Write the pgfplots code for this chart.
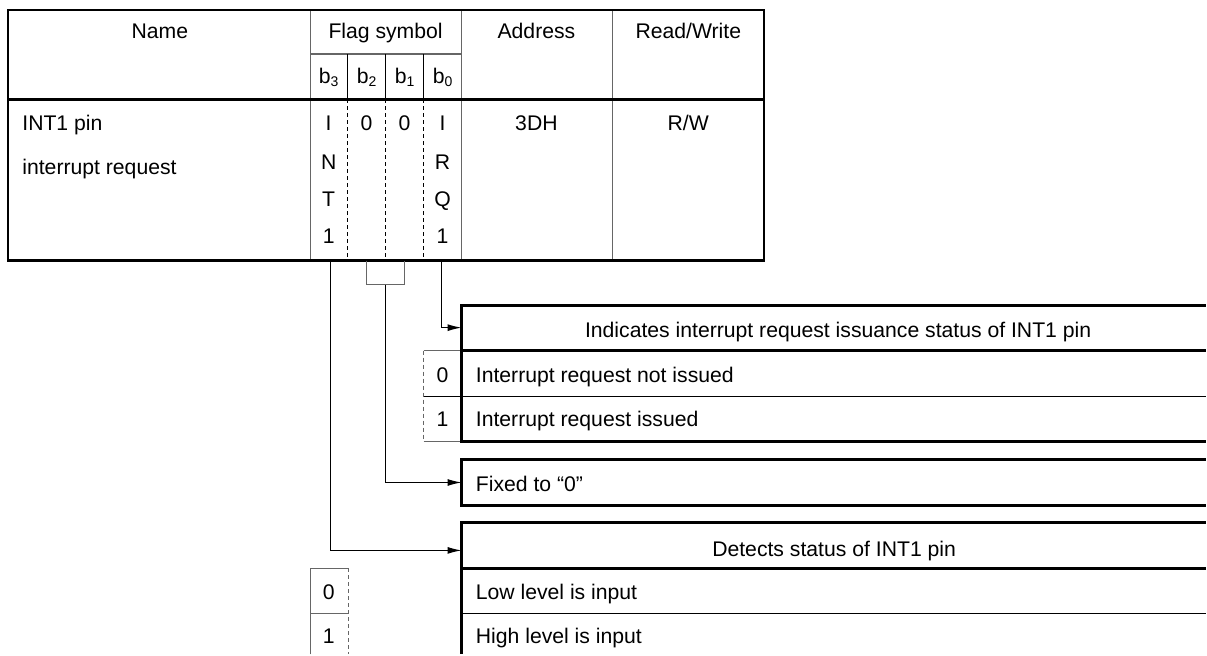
\documentclass[border=0pt]{standalone}
\usepackage{fontspec}
\setmainfont{Liberation Sans}
\usepackage{pgfplots}
\pgfplotsset{compat=1.18}
\usetikzlibrary{arrows.meta}
\begin{document}
\begin{tikzpicture}
\tikzset{
 tk/.style={black, line width=1.3pt, line join=miter},
 tn/.style={black, line width=0.55pt},
 gr/.style={black!60, line width=0.65pt},
 ds/.style={black, line width=0.55pt, dash pattern=on 2pt off 1.5pt},
 dg/.style={black!60, line width=0.65pt, dash pattern=on 2pt off 1.5pt},
 ar/.style={black, line width=0.55pt, -{Latex[length=7pt,width=3.5pt]}},
 tx/.style={font=\fontsize{10.6}{12}\selectfont, inner sep=0pt, anchor=base},
 tl/.style={tx, anchor=base west},
}
\newcommand{\bsub}[1]{b\raisebox{-0.2ex}{\fontsize{7}{8}\selectfont #1}}
\begin{axis}[
 scale only axis, width=603.5pt, height=327.5pt,
 xmin=0, xmax=1207, ymin=0, ymax=655, y dir=reverse,
 hide axis, clip=false,
]
\addplot[draw=none] coordinates {(0,0) (1207,655)};
% ---------------- top table ----------------
\addplot[gr] coordinates {(311,10) (311,261)};
\addplot[gr] coordinates {(462,10) (462,261)};
\addplot[gr] coordinates {(613,10) (613,261)};
\addplot[gr] coordinates {(311,54) (462,54)};
\addplot[tn] coordinates {(348,54) (348,99.5)};
\addplot[tn] coordinates {(386,54) (386,99.5)};
\addplot[tn] coordinates {(424,54) (424,99.5)};
\addplot[ds] coordinates {(348,99.5) (348,261)};
\addplot[ds] coordinates {(386,99.5) (386,261)};
\addplot[ds] coordinates {(424,99.5) (424,261)};
\addplot[tk] coordinates {(8,99.5) (765,99.5)};
\addplot[tk] coordinates {(8,10) (765,10) (765,261) (8,261) (8,10) (765,10)};
% header texts
\node[tx] at (axis cs:160,39) {Name};
\node[tx] at (axis cs:386,39) {Flag symbol};
\node[tx] at (axis cs:537,39) {Address};
\node[tx] at (axis cs:689,39) {Read/Write};
\node[tx] at (axis cs:329,84) {\bsub{3}};
\node[tx] at (axis cs:367,84) {\bsub{2}};
\node[tx] at (axis cs:405,84) {\bsub{1}};
\node[tx] at (axis cs:443,84) {\bsub{0}};
% body texts
\node[tl] at (axis cs:22,131) {INT1 pin};
\node[tl] at (axis cs:22,175) {interrupt request};
\node[tx] at (axis cs:329,131) {I};
\node[tx] at (axis cs:329,169.5) {N};
\node[tx] at (axis cs:329,207) {T};
\node[tx] at (axis cs:329,244) {1};
\node[tx] at (axis cs:367,131) {0};
\node[tx] at (axis cs:405,131) {0};
\node[tx] at (axis cs:443,131) {I};
\node[tx] at (axis cs:443,169.5) {R};
\node[tx] at (axis cs:443,207) {Q};
\node[tx] at (axis cs:443,244) {1};
\node[tx] at (axis cs:537,131) {3DH};
\node[tx] at (axis cs:689,131) {R/W};
% ---------------- connectors ----------------
\addplot[gr] coordinates {(367,261) (367,285) (405,285) (405,261)};
\addplot[ar] coordinates {(442,261) (442,328) (462,328)};
\addplot[ar] coordinates {(386,285) (386,483) (462,483)};
\addplot[ar] coordinates {(331,261) (331,551) (462,551)};
% ---------------- box 1 ----------------
\addplot[gr] coordinates {(424,351) (462,351)};
\addplot[gr] coordinates {(424,442) (462,442)};
\addplot[dg] coordinates {(424,351) (424,442)};
\addplot[tn] coordinates {(424,397) (1207,397)};
\addplot[tk] coordinates {(462,351) (1207,351)};
\addplot[tk] coordinates {(1207,306) (462,306) (462,442) (1207,442)};
\node[tx] at (axis cs:839,338) {Indicates interrupt request issuance status of INT1 pin};
\node[tx] at (axis cs:443,383) {0};
\node[tx] at (axis cs:443,427) {1};
\node[tl] at (axis cs:476,383) {Interrupt request not issued};
\node[tl] at (axis cs:476,427) {Interrupt request issued};
% ---------------- box 2 ----------------
\addplot[tk] coordinates {(1207,460) (462,460) (462,506) (1207,506)};
\node[tl] at (axis cs:476,492) {Fixed to “0”};
% ---------------- box 3 ----------------
\addplot[gr] coordinates {(311,655) (311,569) (349,569)};
\addplot[gr] coordinates {(311,614) (349,614)};
\addplot[dg] coordinates {(349,569) (349,655)};
\addplot[tn] coordinates {(462,614) (1207,614)};
\addplot[tk] coordinates {(462,569) (1207,569)};
\addplot[tk] coordinates {(1207,523) (462,523) (462,655)};
\node[tx] at (axis cs:835,557) {Detects status of INT1 pin};
\node[tx] at (axis cs:329,600) {0};
\node[tx] at (axis cs:329,644) {1};
\node[tl] at (axis cs:476,600) {Low level is input};
\node[tl] at (axis cs:476,644) {High level is input};
\end{axis}
\end{tikzpicture}
\end{document}
